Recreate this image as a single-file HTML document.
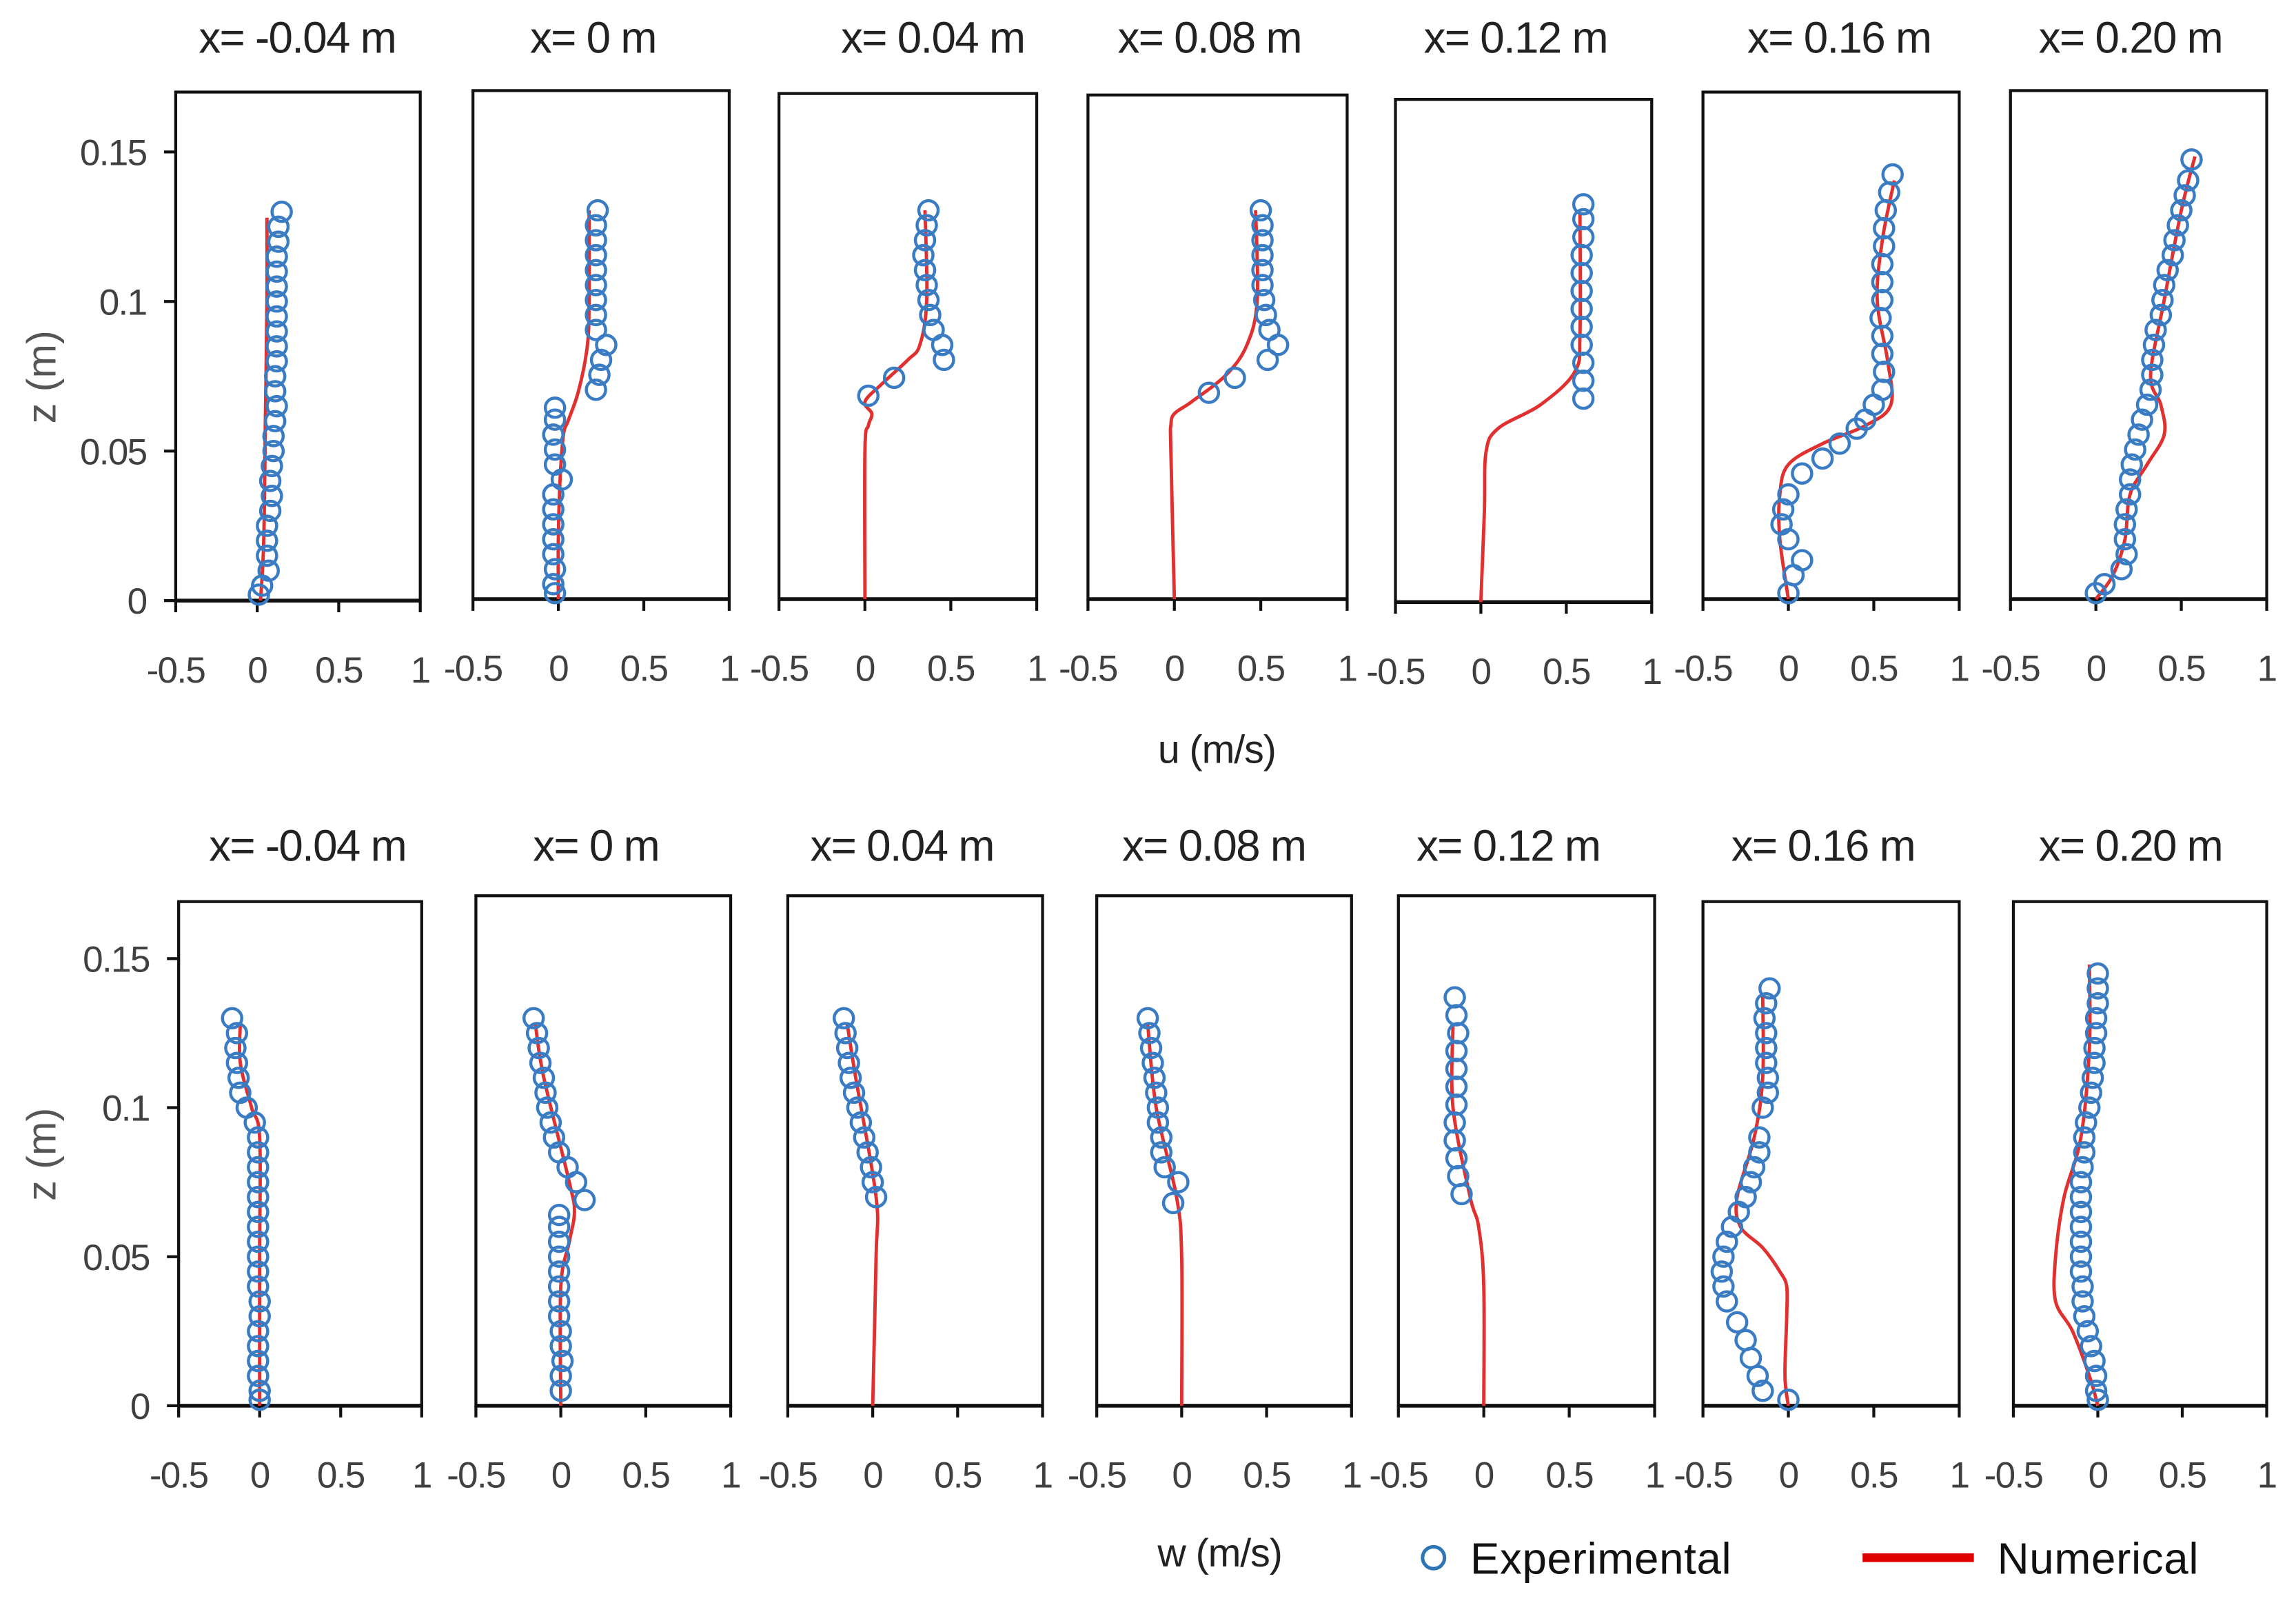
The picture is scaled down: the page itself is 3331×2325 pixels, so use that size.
<!DOCTYPE html>
<html><head><meta charset="utf-8"><style>
html,body{margin:0;padding:0;background:#fff;}
svg{display:block;}
text{font-family:"Liberation Sans",sans-serif;}
</style></head><body>
<svg id="chart" width="3331" height="2325" viewBox="0 0 1568 1097" preserveAspectRatio="none" xmlns="http://www.w3.org/2000/svg">
<rect width="1568" height="1097" fill="#fff"/>
<g id="panels"></g>
<text x="831" y="522" font-size="27" text-anchor="middle" fill="#222" letter-spacing="-0.5">u (m/s)</text>
<text x="833" y="1072" font-size="27" text-anchor="middle" fill="#222" letter-spacing="-0.5">w (m/s)</text>
<text transform="translate(38,258) rotate(-90)" font-size="28" text-anchor="middle" fill="#555">z (m)</text>
<text transform="translate(38,790) rotate(-90)" font-size="28" text-anchor="middle" fill="#555">z (m)</text>
<g>
<circle cx="979" cy="1066" r="7.5" fill="none" stroke="#2e75b6" stroke-width="2.4"/>
<text x="1004" y="1077" font-size="30" fill="#111" letter-spacing="0.3">Experimental</text>
<line x1="1272" y1="1066" x2="1348" y2="1066" stroke="#e00000" stroke-width="6"/>
<text x="1364" y="1077" font-size="30" fill="#111" letter-spacing="0.3">Numerical</text>
</g>
</svg>
<script>
const titles = ["x= -0.04 m","x= 0 m","x= 0.04 m","x= 0.08 m","x= 0.12 m","x= 0.16 m","x= 0.20 m"];
const xTicks = [-0.5, 0, 0.5, 1];
const xTickLabels = ["-0.5","0","0.5","1"];
const zTicks = [0, 0.05, 0.1, 0.15];
const zTickLabels = ["0","0.05","0.1","0.15"];

const uExpZ0 = [0.13,0.125,0.12,0.115,0.11,0.105,0.1,0.095,0.09,0.085,0.08,0.075,0.07,0.065,0.06,0.055,0.05,0.045,0.04,0.035,0.03,0.025,0.02,0.015,0.01,0.005,0.002];
const uExpV0 = [0.15,0.13,0.13,0.12,0.12,0.12,0.12,0.12,0.12,0.12,0.12,0.11,0.11,0.12,0.11,0.1,0.1,0.09,0.08,0.09,0.08,0.06,0.06,0.06,0.07,0.03,0.01];
const uNumZ0 = [0,0.02,0.06,0.1,0.128];
const uNumV0 = [0.02,0.04,0.05,0.06,0.06];

const uExpZ1 = [0.13,0.125,0.12,0.115,0.11,0.105,0.1,0.095,0.09,0.085,0.08,0.075,0.07,0.064,0.06,0.055,0.05,0.045,0.04,0.035,0.03,0.025,0.02,0.015,0.01,0.005,0.002];
const uExpV1 = [0.23,0.22,0.22,0.22,0.22,0.22,0.22,0.22,0.22,0.28,0.25,0.24,0.22,-0.02,-0.02,-0.03,-0.02,-0.02,0.02,-0.03,-0.03,-0.03,-0.03,-0.03,-0.02,-0.03,-0.02];
const uNumZ1 = [0,0.02,0.04,0.055,0.06,0.07,0.085,0.1,0.13];
const uNumV1 = [0,0,0.01,0.03,0.06,0.12,0.17,0.18,0.18];

const uExpZ2 = [0.13,0.125,0.12,0.115,0.11,0.105,0.1,0.095,0.09,0.085,0.08,0.074,0.068];
const uExpV2 = [0.37,0.36,0.35,0.34,0.35,0.36,0.37,0.38,0.4,0.45,0.46,0.17,0.02];
const uNumZ2 = [0,0.05,0.058,0.062,0.066,0.072,0.08,0.085,0.1,0.13];
const uNumV2 = [0,0,0.02,0.04,0.0,0.1,0.25,0.32,0.36,0.35];

const uExpZ3 = [0.13,0.125,0.12,0.115,0.11,0.105,0.1,0.095,0.09,0.085,0.08,0.074,0.069];
const uExpV3 = [0.5,0.51,0.51,0.51,0.51,0.51,0.52,0.53,0.55,0.6,0.54,0.35,0.2];
const uNumZ3 = [0,0.05,0.058,0.062,0.066,0.075,0.085,0.1,0.13];
const uNumV3 = [0,-0.02,-0.02,0.0,0.1,0.3,0.42,0.48,0.47];

const uExpZ4 = [0.133,0.128,0.122,0.116,0.11,0.104,0.098,0.092,0.086,0.08,0.074,0.068];
const uExpV4 = [0.6,0.6,0.6,0.59,0.59,0.59,0.59,0.59,0.59,0.6,0.6,0.6];
const uNumZ4 = [0,0.03,0.05,0.058,0.066,0.077,0.09,0.13];
const uNumV4 = [0,0.02,0.03,0.1,0.35,0.55,0.58,0.58];

const uExpZ5 = [0.142,0.136,0.13,0.124,0.118,0.112,0.106,0.1,0.094,0.088,0.082,0.076,0.07,0.065,0.06,0.057,0.052,0.047,0.042,0.035,0.03,0.025,0.02,0.013,0.008,0.002];
const uExpV5 = [0.61,0.59,0.57,0.56,0.56,0.55,0.55,0.55,0.54,0.55,0.55,0.56,0.55,0.5,0.45,0.4,0.3,0.2,0.08,0.0,-0.03,-0.04,0.0,0.08,0.03,0.0];
const uNumZ5 = [0,0.02,0.035,0.045,0.052,0.058,0.065,0.08,0.1,0.12,0.14];
const uNumV5 = [0,-0.05,-0.05,0.0,0.2,0.45,0.6,0.58,0.52,0.55,0.62];

const uExpZ6 = [0.147,0.14,0.135,0.13,0.125,0.12,0.115,0.11,0.105,0.1,0.095,0.09,0.085,0.08,0.075,0.07,0.065,0.06,0.055,0.05,0.045,0.04,0.035,0.03,0.025,0.02,0.015,0.01,0.005,0.002];
const uExpV6 = [0.56,0.54,0.52,0.5,0.48,0.46,0.45,0.42,0.4,0.39,0.38,0.35,0.34,0.33,0.33,0.32,0.3,0.27,0.25,0.23,0.21,0.2,0.2,0.18,0.17,0.17,0.18,0.15,0.05,0.0];
const uNumZ6 = [0,0.008,0.02,0.035,0.045,0.055,0.065,0.075,0.1,0.13,0.148];
const uNumV6 = [0,0.1,0.17,0.2,0.3,0.4,0.38,0.32,0.4,0.5,0.58];

const wExpZ0 = [0.13,0.125,0.12,0.115,0.11,0.105,0.1,0.095,0.09,0.085,0.08,0.075,0.07,0.065,0.06,0.055,0.05,0.045,0.04,0.035,0.03,0.025,0.02,0.015,0.01,0.005,0.002];
const wExpV0 = [-0.17,-0.14,-0.15,-0.14,-0.13,-0.12,-0.08,-0.03,-0.01,-0.01,-0.01,-0.01,-0.01,-0.01,-0.01,-0.01,-0.01,-0.01,-0.01,0.0,0.0,-0.01,-0.01,-0.01,-0.01,0.0,0.0];
const wNumZ0 = [0,0.05,0.09,0.1,0.115,0.128];
const wNumV0 = [0,0,0,-0.05,-0.12,-0.12];

const wExpZ1 = [0.13,0.125,0.12,0.115,0.11,0.105,0.1,0.095,0.09,0.085,0.08,0.075,0.069,0.064,0.06,0.055,0.05,0.045,0.04,0.035,0.03,0.025,0.02,0.015,0.01,0.005];
const wExpV1 = [-0.16,-0.14,-0.13,-0.12,-0.1,-0.09,-0.08,-0.06,-0.04,-0.01,0.04,0.09,0.14,-0.01,-0.01,-0.01,-0.01,-0.01,-0.01,-0.01,-0.01,0.0,0.0,0.01,0.0,0.0];
const wNumZ1 = [0,0.04,0.055,0.065,0.075,0.11,0.128];
const wNumV1 = [0,0,0.05,0.08,0.05,-0.1,-0.15];

const wExpZ2 = [0.13,0.125,0.12,0.115,0.11,0.105,0.1,0.095,0.09,0.085,0.08,0.075,0.07];
const wExpV2 = [-0.17,-0.16,-0.15,-0.14,-0.13,-0.11,-0.09,-0.07,-0.05,-0.03,-0.01,0.0,0.02];
const wNumZ2 = [0,0.05,0.07,0.11,0.128];
const wNumV2 = [0,0.02,0.02,-0.1,-0.15];

const wExpZ3 = [0.13,0.125,0.12,0.115,0.11,0.105,0.1,0.095,0.09,0.085,0.08,0.075,0.068];
const wExpV3 = [-0.2,-0.19,-0.18,-0.17,-0.16,-0.15,-0.14,-0.14,-0.12,-0.12,-0.1,-0.02,-0.05];
const wNumZ3 = [0,0.05,0.07,0.1,0.128];
const wNumV3 = [0,0,-0.03,-0.15,-0.2];

const wExpZ4 = [0.137,0.131,0.125,0.119,0.113,0.107,0.101,0.095,0.089,0.083,0.077,0.071];
const wExpV4 = [-0.17,-0.16,-0.15,-0.16,-0.16,-0.16,-0.16,-0.17,-0.17,-0.16,-0.15,-0.13];
const wNumZ4 = [0,0.04,0.06,0.07,0.1,0.128];
const wNumV4 = [0,0,-0.03,-0.08,-0.18,-0.18];

const wExpZ5 = [0.14,0.135,0.13,0.125,0.12,0.115,0.11,0.105,0.1,0.09,0.085,0.08,0.075,0.07,0.065,0.06,0.055,0.05,0.045,0.04,0.035,0.028,0.022,0.016,0.01,0.005,0.002];
const wExpV5 = [-0.11,-0.13,-0.14,-0.13,-0.13,-0.13,-0.12,-0.12,-0.15,-0.17,-0.17,-0.2,-0.22,-0.25,-0.29,-0.33,-0.36,-0.38,-0.39,-0.38,-0.36,-0.3,-0.25,-0.22,-0.18,-0.15,0.0];
const wNumZ5 = [0,0.01,0.03,0.04,0.045,0.053,0.06,0.07,0.09,0.11,0.138];
const wNumV5 = [0,-0.02,-0.01,-0.01,-0.05,-0.15,-0.28,-0.3,-0.2,-0.15,-0.15];

const wExpZ6 = [0.145,0.14,0.135,0.13,0.125,0.12,0.115,0.11,0.105,0.1,0.095,0.09,0.085,0.08,0.075,0.07,0.065,0.06,0.055,0.05,0.045,0.04,0.035,0.03,0.025,0.02,0.015,0.01,0.005,0.002];
const wExpV6 = [0.0,0.0,0.0,-0.01,-0.01,-0.02,-0.02,-0.03,-0.04,-0.05,-0.07,-0.08,-0.08,-0.09,-0.1,-0.1,-0.1,-0.1,-0.1,-0.1,-0.1,-0.09,-0.09,-0.08,-0.06,-0.04,-0.02,-0.01,-0.01,0.0];
const wNumZ6 = [0,0.01,0.025,0.035,0.05,0.07,0.09,0.12,0.148];
const wNumV6 = [0,-0.05,-0.15,-0.25,-0.25,-0.2,-0.1,-0.05,-0.05];

const topExpZ=[uExpZ0,uExpZ1,uExpZ2,uExpZ3,uExpZ4,uExpZ5,uExpZ6];
const topExpV=[uExpV0,uExpV1,uExpV2,uExpV3,uExpV4,uExpV5,uExpV6];
const topNumZ=[uNumZ0,uNumZ1,uNumZ2,uNumZ3,uNumZ4,uNumZ5,uNumZ6];
const topNumV=[uNumV0,uNumV1,uNumV2,uNumV3,uNumV4,uNumV5,uNumV6];
const botExpZ=[wExpZ0,wExpZ1,wExpZ2,wExpZ3,wExpZ4,wExpZ5,wExpZ6];
const botExpV=[wExpV0,wExpV1,wExpV2,wExpV3,wExpV4,wExpV5,wExpV6];
const botNumZ=[wNumZ0,wNumZ1,wNumZ2,wNumZ3,wNumZ4,wNumZ5,wNumZ6];
const botNumV=[wNumV0,wNumV1,wNumV2,wNumV3,wNumV4,wNumV5,wNumV6];

const topBoxes=[[120,287,63,411],[323,498,62,410],[532,708,64,410],[743,920,65,410],[953,1128,68,412],[1163,1338,63,410],[1373,1548,62,410]];
const botBoxes=[[122,288,617,962],[325,499,613,962],[538,712,613,962],[749,923,613,962],[955,1130,613,962],[1163,1338,617,962],[1375,1548,617,962]];
const topTitleX=[203,405,637,826,1035,1256,1455], topTitleY=36;
const botTitleX=[210,407,616,829,1030,1245,1455], botTitleY=589;

const NS="http://www.w3.org/2000/svg";
const root=document.getElementById('panels');
function mk(tag,attrs,parent){const e=document.createElementNS(NS,tag);for(const k in attrs)e.setAttribute(k,attrs[k]);parent.appendChild(e);return e;}
function smooth(pts){
  let d='M'+pts[0][0].toFixed(1)+','+pts[0][1].toFixed(1);
  for(let i=0;i<pts.length-1;i++){
    const p0=pts[i-1]||pts[i],p1=pts[i],p2=pts[i+1],p3=pts[i+2]||p2;
    const c1=[p1[0]+(p2[0]-p0[0])/6,p1[1]+(p2[1]-p0[1])/6];
    const c2=[p2[0]-(p3[0]-p1[0])/6,p2[1]-(p3[1]-p1[1])/6];
    d+=' C'+c1[0].toFixed(1)+','+c1[1].toFixed(1)+' '+c2[0].toFixed(1)+','+c2[1].toFixed(1)+' '+p2[0].toFixed(1)+','+p2[1].toFixed(1);
  }
  return d;
}

function drawPanel(row,i,box,tx,ty,eZ,eV,nZ,nV){
  const [x0,x1,y1top,y0]=box;
  const xs=v=>x0+(v+0.5)/1.5*(x1-x0);
  const z15=(row==='u')?104+(y0-411):656+(y0-962);
  const zs=z=>y0-z*(y0-z15)/0.15;
  const g=mk('g',{},root);
  
  
  const t=mk('text',{x:tx,y:ty,'font-size':30,'text-anchor':'middle',fill:'#222','letter-spacing':'-0.8'},g);
  
  
  t.textContent=titles[i];
  const fr=mk('rect',{x:x0,y:y1top,width:x1-x0,height:y0-y1top,fill:'none',stroke:'#111','stroke-width':2},g);
  
  
  const ax=mk('line',{x1:x0,y1:y0,x2:x1,y2:y0,stroke:'#111','stroke-width':2.6},g);
  
  
  xTicks.forEach((v,k)=>{
    mk('line',{x1:xs(v),y1:y0,x2:xs(v),y2:y0+8,stroke:'#111','stroke-width':2},g);
    const lb=mk('text',{x:xs(v),y:y0+56,'font-size':25,'text-anchor':'middle',fill:'#404040','letter-spacing':'-0.8'},g);
    
    
    lb.textContent=xTickLabels[k];
  });
  if(i===0){
    zTicks.forEach((v,k)=>{
      mk('line',{x1:x0-8,y1:zs(v),x2:x0,y2:zs(v),stroke:'#111','stroke-width':2},g);
      const lb=mk('text',{x:x0-20,y:zs(v)+9,'font-size':25,'text-anchor':'end',fill:'#404040','letter-spacing':'-0.8'},g);
      
      
      lb.textContent=zTickLabels[k];
    });
  }
  const pts=nZ.map((z,k)=>[xs(nV[k]),zs(z)]);
  const p=mk('path',{d:smooth(pts),fill:'none',stroke:'#e03030','stroke-width':2.3,'stroke-linejoin':'round'},g);
  
  
  eZ.forEach((z,k)=>{
    const c=mk('circle',{cx:xs(eV[k]),cy:zs(z),r:6.6,fill:'none',stroke:'#3a7cc4','stroke-width':2.1},g);
    
    
  });
}
for(let i=0;i<7;i++){
  drawPanel('u',i,topBoxes[i],topTitleX[i],topTitleY,topExpZ[i],topExpV[i],topNumZ[i],topNumV[i]);
  drawPanel('w',i,botBoxes[i],botTitleX[i],botTitleY,botExpZ[i],botExpV[i],botNumZ[i],botNumV[i]);
}
</script>
</body></html>
